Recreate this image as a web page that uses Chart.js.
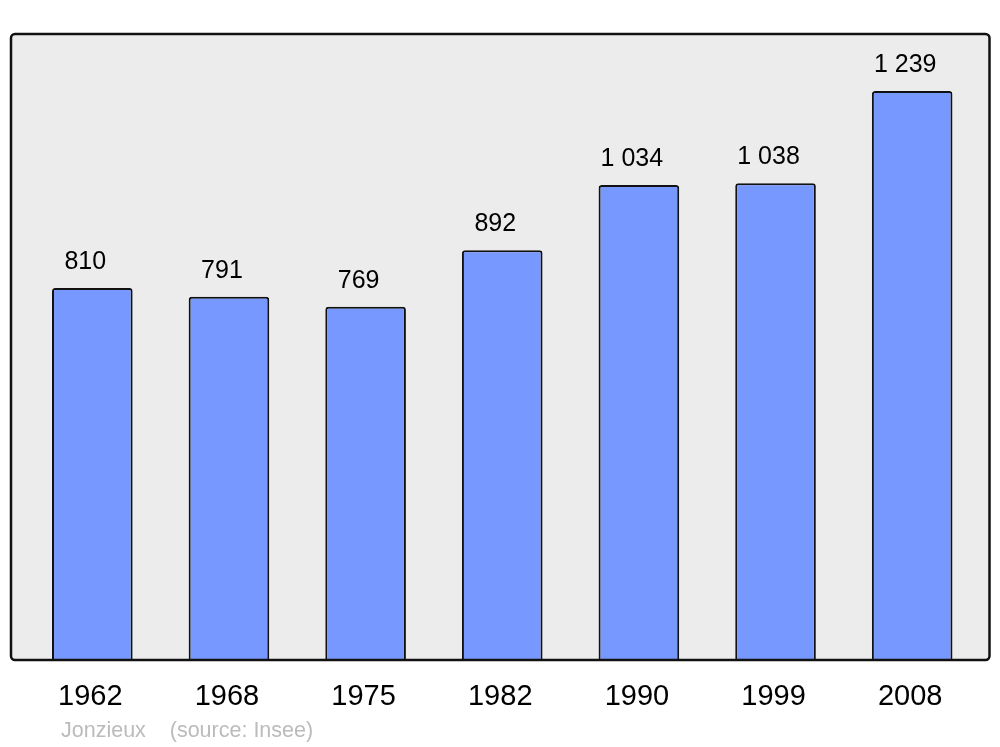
<!DOCTYPE html>
<html><head><meta charset="utf-8">
<script src="https://cdn.jsdelivr.net/npm/chart.js@4/dist/chart.umd.min.js"></script>
<style>html,body{margin:0;padding:0;background:#fff;}canvas{display:block;}</style>
</head><body>
<canvas id="c" width="1000" height="747"></canvas>
<script>
const years = ["1962","1968","1975","1982","1990","1999","2008"];
const population = [810, 791, 769, 892, 1034, 1038, 1239];
const valueLabels = ["810","791","769","892","1 034","1 038","1 239"];
const footerText = "Jonzieux    (source: Insee)";

const FONT = "'Liberation Sans', Arial, sans-serif";

const boxPlugin = {
  id: 'box',
  beforeDraw(chart) {
    const {ctx, chartArea: a} = chart;
    ctx.save();
    ctx.beginPath();
    ctx.roundRect(a.left - 13, a.top, (a.right + 9) - (a.left - 13), a.bottom - a.top, 4);
    ctx.fillStyle = '#ececec';
    ctx.fill();
    ctx.restore();
  },
  afterDatasetsDraw(chart) {
    const {ctx, chartArea: a} = chart;
    ctx.save();
    ctx.beginPath();
    ctx.roundRect(a.left - 13, a.top, (a.right + 9) - (a.left - 13), a.bottom - a.top, 4);
    ctx.lineWidth = 2.5;
    ctx.strokeStyle = '#111';
    ctx.stroke();
    // value labels
    const meta = chart.getDatasetMeta(0);
    ctx.fillStyle = '#000';
    ctx.font = '25px ' + FONT;
    ctx.textAlign = 'center';
    ctx.textBaseline = 'alphabetic';
    meta.data.forEach((bar, i) => {
      ctx.fillText(valueLabels[i], bar.x - 7, bar.y - 19);
    });
    // footer
    ctx.fillStyle = '#bbbbbb';
    ctx.font = '21.5px ' + FONT;
    ctx.textAlign = 'left';
    ctx.textBaseline = 'middle';
    ctx.fillText(footerText, a.left + 37, 731);
    ctx.restore();
  }
};

new Chart(document.getElementById('c'), {
  type: 'bar',
  data: {
    labels: years,
    datasets: [{
      data: population,
      backgroundColor: '#7799ff',
      borderColor: '#111',
      borderWidth: 2,
      borderSkipped: 'bottom',
      borderRadius: {topLeft: 3, topRight: 3, bottomLeft: 0, bottomRight: 0},
      barPercentage: 0.59,
      categoryPercentage: 1.0
    }]
  },
  options: {
    responsive: false,
    animation: false,
    devicePixelRatio: 1,
    layout: {padding: {left: 24, right: 19.5, top: 34, bottom: 0}},
    plugins: {legend: {display: false}, tooltip: {enabled: false}, title: {display: false}},
    scales: {
      x: {
        grid: {display: false},
        border: {display: false},
        ticks: {color: '#000', font: {family: FONT, size: 29}, padding: 12, labelOffset: -2, maxRotation: 0},
        afterFit(scale) { scale.height = 87; }
      },
      y: {
        display: false,
        min: 0,
        max: 1363
      }
    }
  },
  plugins: [boxPlugin]
});
</script>
</body></html>
